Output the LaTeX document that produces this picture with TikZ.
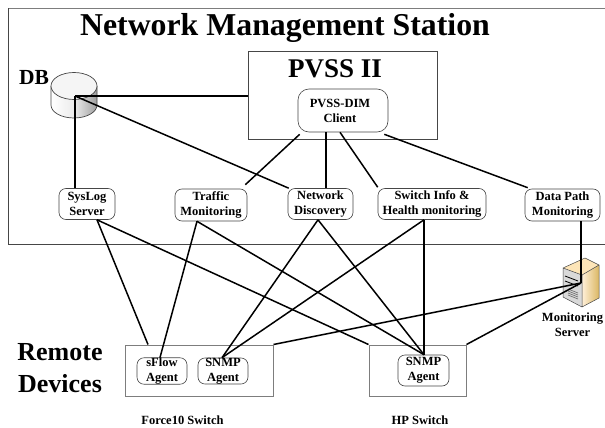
\documentclass[tikz,border=0pt]{standalone}
\usepackage{fontspec}
\setmainfont{Liberation Serif}
\usetikzlibrary{calc}
\definecolor{framegray}{RGB}{125,125,125}
\definecolor{darkframe}{RGB}{70,70,70}
\tikzset{
  agent/.style={draw=darkframe,line width=0.6pt,rounded corners=7pt,align=center,inner sep=0pt,font=\fontsize{12.5}{15}\selectfont\bfseries},
  container/.style={draw=framegray,line width=1pt,inner sep=0pt},
  link/.style={black,line width=1.5pt},
  heading/.style={font=\bfseries,inner sep=0pt,align=center},
  small/.style={inner sep=0pt,align=center,font=\fontsize{12.5}{15}\selectfont\bfseries},
}
\begin{document}
\begin{tikzpicture}[x=1pt,y=-1pt]
\useasboundingbox (0,0) rectangle (605,428);
\fill[white] (0,0) rectangle (605,428);
% outer station frame
\draw[framegray,line width=1.2pt] (605,8.5) -- (8.5,8.5);
\draw[darkframe,line width=0.8pt] (8.5,8.5) -- (8.5,244) -- (605,244);
\node[heading,font=\fontsize{31.8}{34}\selectfont\bfseries] (title) at (285,28) {Network Management Station};
% PVSS
\node[draw=darkframe,line width=0.7pt,minimum width=189pt,minimum height=88pt,inner sep=0pt] (pvss) at (342.5,95) {};
\node[heading,font=\fontsize{27}{30}\selectfont\bfseries] (pvsst) at (335,68.5) {PVSS II};
\node[agent,rounded corners=11pt,minimum width=90pt,minimum height=43pt] (client) at (343,110.5) {PVSS-DIM\kern6pt\\Client\kern6pt};
% DB
\node[heading,font=\fontsize{21.5}{24}\selectfont\bfseries] (dbl) at (34,77) {DB};
\shade[left color=white,right color=gray!75,middle color=gray!15] (51,86) -- (51,105) arc[start angle=180,end angle=0,x radius=23,y radius=13] -- (97,86) -- cycle;
\draw[darkframe,line width=0.7pt] (51,86) -- (51,105) arc[start angle=180,end angle=0,x radius=23,y radius=13] -- (97,86);
\draw[darkframe,line width=0.7pt,fill=gray!8] (74,86) ellipse[x radius=23,y radius=13.5];
\coordinate (db) at (75,96);
% middle agents
\node[agent,minimum width=56pt,minimum height=31pt] (syslog) at (87,204) {SysLog\\Server};
\node[agent,minimum width=72pt,minimum height=32pt] (traffic) at (211,205) {Traffic\\Monitoring};
\node[agent,minimum width=65pt,minimum height=31pt] (netdisc) at (320.5,204) {Network\\Discovery};
\node[agent,minimum width=108pt,minimum height=31pt] (swinfo) at (432,204) {Switch Info \&\\Health monitoring};
\node[agent,minimum width=75pt,minimum height=32pt] (datapath) at (562.5,205) {Data Path\\Monitoring};
% remote
\node[heading,font=\fontsize{26}{32}\selectfont\bfseries] (remote) at (60,368) {Remote\\Devices};
\node[container,minimum width=148pt,minimum height=51pt] (force) at (199,370.5) {};
\node[agent,minimum width=50pt,minimum height=25pt] (sflow) at (162,371) {sFlow\\Agent};
\node[agent,minimum width=50pt,minimum height=25pt] (snmpa) at (223,371) {SNMP\\Agent};
\node[small] (forcel) at (182.5,420) {Force10 Switch};
\node[container,minimum width=97pt,minimum height=51pt] (hp) at (417.5,370.5) {};
\node[agent,minimum width=51pt,minimum height=31pt] (snmpb) at (423.5,370.5) {SNMP\\Agent};
\node[small] (hpl) at (420,420) {HP Switch};
% server icon
\fill[yellow!25!orange!25!white] (563,268) -- (585,258) -- (599,265) -- (582,275) -- cycle;
\shade[left color=yellow!20!orange!15!white,right color=brown!75!yellow!75] (582,275) -- (599,265) -- (599,298) -- (582,307) -- cycle;
\fill[gray!30] (563,268) -- (582,275) -- (582,307) -- (563,297) -- cycle;
\draw[darkframe,line width=0.5pt,line join=round] (563,268) -- (585,258) -- (599,265) -- (599,298) -- (582,307) -- (563,297) -- cycle (563,268) -- (582,275) -- (599,265) (582,275) -- (582,307);
\draw[black,line width=0.8pt] (565,276) -- (578,281) (565,281) -- (578,286);
\foreach \yy in {295,297,299,301} \draw[gray!80!black,line width=0.6pt] (568,\yy-6) -- (578,\yy-2);
\coordinate (server) at (581,283);
\node[small] (serverl) at (572.5,325) {Monitoring\\Server};
% links
\draw[link,line width=1.1pt] (db) -- (pvss.west |- db);
\draw[link] (db) -- (75,96 |- syslog.north);
\draw[link] (db) -- ([xshift=1pt]netdisc.north west);
\draw[link] ([xshift=2pt,yshift=-2pt]client.south west) -- ([xshift=-2pt,yshift=4pt]traffic.north east);
\draw[link] ([xshift=-17pt]client.south) -- ([xshift=5.5pt]netdisc.north);
\draw[link] ([xshift=-3pt]client.south) -- ([yshift=1pt]swinfo.north west);
\draw[link] ([xshift=-4pt,yshift=-2pt]client.south east) -- ([xshift=3pt,yshift=1pt]datapath.north west);
\coordinate (sysb) at ([xshift=10pt]syslog.south);
\coordinate (trab) at ([xshift=-14pt]traffic.south);
\coordinate (netb) at ([xshift=-2.5pt]netdisc.south);
\coordinate (swib) at ([xshift=-8pt]swinfo.south);
\coordinate (datb) at ([xshift=18.5pt]datapath.south);
\coordinate (force2) at ([xshift=-51pt]force.north);
\coordinate (snmpt) at ([xshift=-1pt]snmpa.north);
\coordinate (flowt) at ([xshift=-2pt]sflow.north);
\coordinate (snmpbt) at ([xshift=0.5pt]snmpb.north);
\draw[link] (sysb) -- (force2);
\draw[link] (sysb) -- (hp.north west);
\draw[link] (trab) -- (flowt);
\draw[link] (trab) -- (snmpbt);
\draw[link] (netb) -- (snmpt);
\draw[link] (netb) -- (snmpbt);
\draw[link] (swib) -- (snmpt);
\draw[link] (swib) -- (snmpbt);
\draw[link,line width=1.8pt] (datb) -- (server);
\draw[link] (server) -- (force.north east);
\draw[link] (server) -- (hp.north east);
\end{tikzpicture}
\end{document}
